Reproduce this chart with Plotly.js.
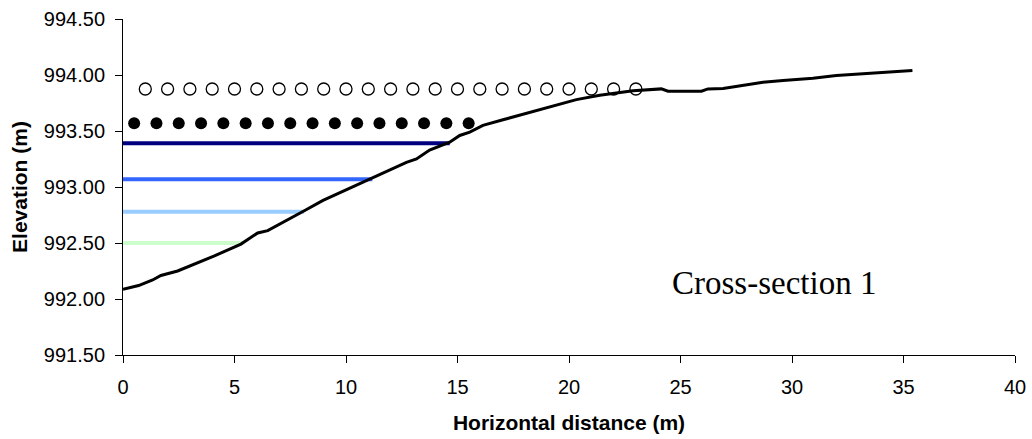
<!DOCTYPE html>
<html>
<head>
<meta charset="utf-8">
<script src="https://cdn.plot.ly/plotly-3.0.1.min.js"></script>
<style>
  html, body { margin: 0; padding: 0; background: #fff; }
  #chart { width: 1032px; height: 439px; }
</style>
</head>
<body>
<div id="chart"></div>
<script>
// Ground profile of cross-section 1 (horizontal distance m, elevation m)
const groundX = [0, 0.7, 1.33, 1.7, 2.45, 3.35, 4.10, 5.29, 6.04, 6.49, 7.47, 8.15, 8.97, 10.31, 11.21, 11.96, 12.71, 13.16, 13.75, 14.65, 15.10, 15.55, 16.14, 17.04, 18.69, 20.33, 21.38, 22.87, 24.14, 24.44, 25.94, 26.23, 26.91, 28.70, 29.60, 30.49, 30.94, 31.99, 33.04, 33.93, 35.4];
const groundY = [992.087, 992.12, 992.17, 992.21, 992.25, 992.32, 992.385, 992.49, 992.59, 992.61, 992.72, 992.79, 992.88, 993.00, 993.08, 993.15, 993.22, 993.25, 993.33, 993.40, 993.46, 993.49, 993.55, 993.60, 993.69, 993.78, 993.82, 993.86, 993.876, 993.855, 993.855, 993.876, 993.88, 993.935, 993.95, 993.965, 993.97, 993.995, 994.01, 994.025, 994.04];

// Water surface levels (elevation, extent from the left bank)
const levelNames = ['Level 1', 'Level 2', 'Level 3', 'Level 4'];
const levelElev = [992.50, 992.78, 993.07, 993.39];
const levelEnd = [5.35, 8.12, 11.18, 14.65];
const levelColors = ['#ccffcc', '#99ccff', '#3366ff', '#000080'];

// Marked water levels shown as dotted rows
const filledX = [0.5, 1.5, 2.5, 3.5, 4.5, 5.5, 6.5, 7.5, 8.5, 9.5, 10.5, 11.5, 12.5, 13.5, 14.5, 15.5];
const filledElev = 993.57;
const openX = [1, 2, 3, 4, 5, 6, 7, 8, 9, 10, 11, 12, 13, 14, 15, 16, 17, 18, 19, 20, 21, 22, 23];
const openElev = 993.875;

const xTicks = [0, 5, 10, 15, 20, 25, 30, 35, 40];
const yTicks = [991.5, 992.0, 992.5, 993.0, 993.5, 994.0, 994.5];

const traces = [];

levelElev.forEach((e, i) => {
  traces.push({
    type: 'scatter', mode: 'lines', name: levelNames[i],
    x: [0, levelEnd[i]], y: [e, e],
    line: { color: levelColors[i], width: 4 }
  });
});

traces.push({
  type: 'scatter', mode: 'markers', name: 'Filled',
  x: filledX, y: filledX.map(() => filledElev),
  marker: { color: '#000', size: 12, line: { width: 0 } }
});

traces.push({
  type: 'scatter', mode: 'markers', name: 'Open',
  x: openX, y: openX.map(() => openElev),
  marker: { color: 'rgba(0,0,0,0)', size: 12, line: { color: '#000', width: 1.3 } }
});

traces.push({
  type: 'scatter', mode: 'lines', name: 'Ground',
  x: groundX, y: groundY,
  line: { color: '#000', width: 3 }
});

const axisFont = { family: 'Liberation Sans, Arial, sans-serif', size: 20, color: '#000' };
const titleFont = { family: 'Liberation Sans, Arial, sans-serif', size: 21, color: '#000', weight: 'bold' };

const layout = {
  width: 1032, height: 439,
  margin: { l: 123, r: 17, t: 19, b: 84 },
  paper_bgcolor: '#fff', plot_bgcolor: '#fff',
  showlegend: false,
  hovermode: false,
  xaxis: {
    range: [0, 40], tickvals: xTicks, ticktext: xTicks.map(String),
    showgrid: false, zeroline: false,
    showline: true, linecolor: '#000', linewidth: 1,
    ticks: 'outside', ticklen: 7, tickcolor: '#000', tickwidth: 1,
    tickfont: axisFont, ticklabelstandoff: 7,
    title: { text: '<b>Horizontal distance (m)</b>', font: titleFont, standoff: 18 },
    automargin: false
  },
  yaxis: {
    range: [991.5, 994.5], tickvals: yTicks, ticktext: yTicks.map(v => v.toFixed(2)),
    showgrid: false, zeroline: false,
    showline: true, linecolor: '#000', linewidth: 1,
    ticks: 'outside', ticklen: 7, tickcolor: '#000', tickwidth: 1,
    tickfont: axisFont, ticklabelstandoff: 6,
    title: { text: '<b>Elevation (m)</b>', font: titleFont, standoff: 10 },
    automargin: false
  },
  annotations: [{
    text: 'Cross-section 1', xref: 'x', yref: 'y', x: 29.2, y: 992.14,
    showarrow: false, xanchor: 'center', yanchor: 'middle',
    font: { family: 'Liberation Serif, Times New Roman, serif', size: 33, color: '#000' }
  }]
};

Plotly.newPlot('chart', traces, layout, { staticPlot: true, displayModeBar: false });
</script>
</body>
</html>
